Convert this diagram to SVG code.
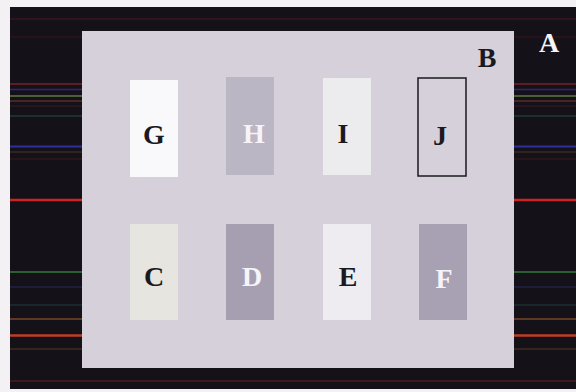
<svg xmlns="http://www.w3.org/2000/svg" width="576" height="392" viewBox="0 0 576 392">
  <style>
    .lbl { font-family: "Liberation Serif", "Times New Roman", serif; font-weight: bold; font-size: 28px; text-anchor: middle; }
    .dark { fill: #1a1a1e; }
    .light { fill: #f6f4f8; }
    .ln { fill: none; }
  </style>
  <rect x="0" y="0" width="576" height="392" fill="#f3f1f3"/>
  <g id="A">
    <rect x="10" y="7" width="566" height="382" fill="#151118"/>
    <g class="ln">
      <line x1="10" y1="19" x2="576" y2="19" stroke="#4a1a1e" stroke-width="1"/>
      <line x1="10" y1="37" x2="576" y2="37" stroke="#3a1418" stroke-width="1"/>
      <line x1="10" y1="84" x2="576" y2="84" stroke="#7a2024" stroke-width="1.5"/>
      <line x1="10" y1="89.5" x2="576" y2="89.5" stroke="#2c2878" stroke-width="1.5"/>
      <line x1="10" y1="96" x2="576" y2="96" stroke="#5c7a3c" stroke-width="1.5"/>
      <line x1="10" y1="101" x2="576" y2="101" stroke="#5a2a2c" stroke-width="1.5"/>
      <line x1="10" y1="106" x2="576" y2="106" stroke="#3e1c22" stroke-width="1"/>
      <line x1="10" y1="116" x2="576" y2="116" stroke="#24504c" stroke-width="1"/>
      <line x1="10" y1="146.5" x2="576" y2="146.5" stroke="#2e2ea0" stroke-width="2"/>
      <line x1="10" y1="152" x2="576" y2="152" stroke="#463a24" stroke-width="1"/>
      <line x1="10" y1="159" x2="576" y2="159" stroke="#3a1a1c" stroke-width="1"/>
      <line x1="10" y1="200" x2="576" y2="200" stroke="#d02424" stroke-width="2.5"/>
      <line x1="10" y1="272" x2="576" y2="272" stroke="#357a3a" stroke-width="1.5"/>
      <line x1="10" y1="287" x2="576" y2="287" stroke="#28285e" stroke-width="1"/>
      <line x1="10" y1="305" x2="576" y2="305" stroke="#1e3e3e" stroke-width="1"/>
      <line x1="10" y1="319" x2="576" y2="319" stroke="#7a4428" stroke-width="1.5"/>
      <line x1="10" y1="335.5" x2="576" y2="335.5" stroke="#c03c22" stroke-width="2.5"/>
      <line x1="10" y1="349" x2="576" y2="349" stroke="#54381e" stroke-width="1"/>
      <line x1="10" y1="381" x2="576" y2="381" stroke="#6a2024" stroke-width="1"/>
    </g>
    <text class="lbl light" x="549" y="52">A</text>
  </g>
  <g id="B">
    <rect x="82" y="31" width="432" height="337" fill="#d5d0da"/>
    <text class="lbl dark" x="487" y="67">B</text>
  </g>
  <g id="G">
    <rect x="130" y="80" width="48" height="97" fill="#f9f8fa"/>
    <text class="lbl dark" x="154" y="144">G</text>
  </g>
  <g id="H">
    <rect x="226" y="77" width="48" height="98" fill="#bbb6c4"/>
    <text class="lbl light" x="254" y="143">H</text>
  </g>
  <g id="I">
    <rect x="323" y="78" width="48" height="97" fill="#ecebee"/>
    <text class="lbl dark" x="343" y="143">I</text>
  </g>
  <g id="J">
    <rect x="418" y="78" width="48" height="98" fill="#d5d0da" stroke="#1a1a1e" stroke-width="1.5"/>
    <text class="lbl dark" x="440" y="145">J</text>
  </g>
  <g id="C">
    <rect x="130" y="224" width="48" height="96" fill="#e7e5e0"/>
    <text class="lbl dark" x="154" y="286">C</text>
  </g>
  <g id="D">
    <rect x="226" y="224" width="48" height="96" fill="#a69fb1"/>
    <text class="lbl light" x="252" y="286">D</text>
  </g>
  <g id="E">
    <rect x="323" y="224" width="48" height="96" fill="#efecf1"/>
    <text class="lbl dark" x="348" y="286">E</text>
  </g>
  <g id="F">
    <rect x="419" y="224" width="48" height="96" fill="#a8a0b3"/>
    <text class="lbl light" x="444" y="288">F</text>
  </g>
  <g id="connectors"/>
</svg>
